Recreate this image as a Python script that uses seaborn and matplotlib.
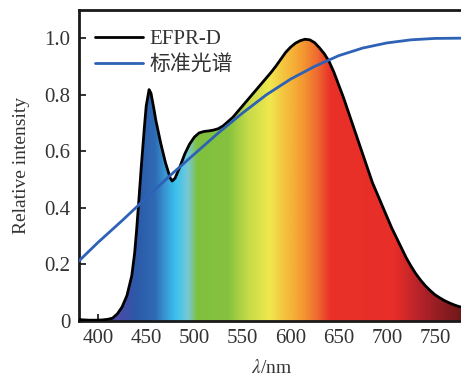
import numpy as np
import pandas as pd
import matplotlib
matplotlib.use("Agg")
import matplotlib.pyplot as plt
from matplotlib.colors import LinearSegmentedColormap
import seaborn as sns

# Emission spectrum of the EFPR-D source (relative intensity vs wavelength, nm)
wavelength = [380, 385, 390, 395, 400, 405, 410, 415, 420, 425, 430, 435, 438,
              440, 442, 445, 448, 450, 453, 455, 458, 460, 465, 470, 475, 477,
              480, 485, 490, 495, 500, 505, 510, 515, 520, 525, 530, 535, 540,
              545, 550, 555, 560, 565, 570, 575, 580, 585, 590, 595, 600, 605,
              610, 615, 620, 625, 630, 635, 640, 645, 650, 655, 660, 665, 670,
              675, 680, 685, 690, 695, 700, 705, 710, 715, 720, 725, 730, 735,
              740, 745, 750, 755, 760, 765, 770, 775, 780]
efpr_d = [0.005, 0.004, 0.003, 0.003, 0.003, 0.004, 0.006, 0.010, 0.025, 0.050,
          0.090, 0.160, 0.240, 0.320, 0.410, 0.550, 0.680, 0.760, 0.818, 0.805,
          0.750, 0.710, 0.630, 0.560, 0.505, 0.495, 0.505, 0.545, 0.590, 0.625,
          0.650, 0.665, 0.670, 0.672, 0.675, 0.680, 0.690, 0.705, 0.720, 0.740,
          0.760, 0.780, 0.800, 0.820, 0.840, 0.860, 0.880, 0.902, 0.926, 0.950,
          0.968, 0.982, 0.991, 0.996, 0.994, 0.984, 0.966, 0.945, 0.918, 0.880,
          0.835, 0.790, 0.740, 0.690, 0.640, 0.590, 0.540, 0.490, 0.450, 0.410,
          0.370, 0.330, 0.295, 0.260, 0.225, 0.195, 0.168, 0.145, 0.125, 0.108,
          0.093, 0.082, 0.072, 0.064, 0.057, 0.051, 0.048]

# Reference (standard) spectrum
std_wavelength = [380, 400, 425, 450, 475, 500, 525, 550, 575, 600, 625, 650,
                  675, 700, 725, 750, 780]
std_spectrum = [0.212, 0.278, 0.355, 0.435, 0.515, 0.590, 0.665, 0.735, 0.800,
                0.855, 0.900, 0.938, 0.965, 0.983, 0.994, 0.999, 1.000]

x_ticks = [400, 450, 500, 550, 600, 650, 700, 750]
y_ticks = [0, 0.2, 0.4, 0.6, 0.8, 1.0]
y_tick_labels = ["0", "0.2", "0.4", "0.6", "0.8", "1.0"]

sns.set_theme(style="ticks")
plt.rcParams["font.family"] = ["Liberation Serif", "Noto Sans CJK SC"]
plt.rcParams["mathtext.fontset"] = "stix"

df_src = pd.DataFrame({"wavelength": wavelength, "intensity": efpr_d})
df_std = pd.DataFrame({"wavelength": std_wavelength, "intensity": std_spectrum})

fig = plt.figure(figsize=(4.61, 3.79), dpi=100)
ax = fig.add_axes([0.171, 0.153, 0.835, 0.821])

x0, x1 = 380, 780
y0, y1 = 0, 1.1

# Visible-spectrum colour ramp used to paint the area under the curve
stops = [(380, "#5a3f9e"), (420, "#4a4aa8"), (440, "#2c5aa8"), (458, "#2e6ab4"),
         (470, "#3a9ad4"), (480, "#38c2ee"), (493, "#78c8d6"), (502, "#80c040"),
         (535, "#86c23e"), (555, "#c4da48"), (578, "#f0e84e"), (592, "#f5c640"),
         (610, "#f5a032"), (628, "#ef6a30"), (642, "#e93029"), (708, "#e82e28"),
         (735, "#b5222a"), (780, "#6a1818")]
cmap = LinearSegmentedColormap.from_list(
    "visible", [((w - x0) / (x1 - x0), c) for w, c in stops])
ramp = np.linspace(0, 1, 800).reshape(1, -1)
img = ax.imshow(ramp, cmap=cmap, extent=[x0, x1, y0, y1], aspect="auto",
                origin="lower", zorder=1)
area = ax.fill_between(wavelength, efpr_d, 0, color="none", zorder=1)
img.set_clip_path(area.get_paths()[0], transform=ax.transData)

sns.lineplot(data=df_src, x="wavelength", y="intensity", ax=ax, color="black",
             lw=2.0, label="EFPR-D", zorder=3)
sns.lineplot(data=df_std, x="wavelength", y="intensity", ax=ax, color="#2d62b6",
             lw=2.0, label="标准光谱", zorder=4)

ax.set_xlim(x0, x1)
ax.set_ylim(y0, y1)
ax.set_xticks(x_ticks)
ax.set_yticks(y_ticks)
ax.set_yticklabels(y_tick_labels)
ax.tick_params(direction="in", length=5, width=1.3, labelsize=15, pad=6,
               colors="#222222")
ax.tick_params(axis="x", labelcolor="#333333")
ax.tick_params(axis="y", labelcolor="#333333")
ax.set_xlabel(r"$\lambda$/nm", fontsize=14, color="#333333", labelpad=8)
ax.set_ylabel("Relative intensity", fontsize=14, color="#333333", labelpad=10)

for side in ["left", "bottom", "top"]:
    ax.spines[side].set_linewidth(2.0)
    ax.spines[side].set_color("#1a1a1a")
ax.spines["right"].set_visible(False)

leg = ax.legend(loc="upper left", frameon=False, fontsize=15,
                handlelength=2.3, handletextpad=0.3, labelspacing=0.3,
                bbox_to_anchor=(0.0, 0.99), borderaxespad=0.4)
for t in leg.get_texts():
    t.set_color("#333333")

fig.savefig("out.png", dpi=100)
